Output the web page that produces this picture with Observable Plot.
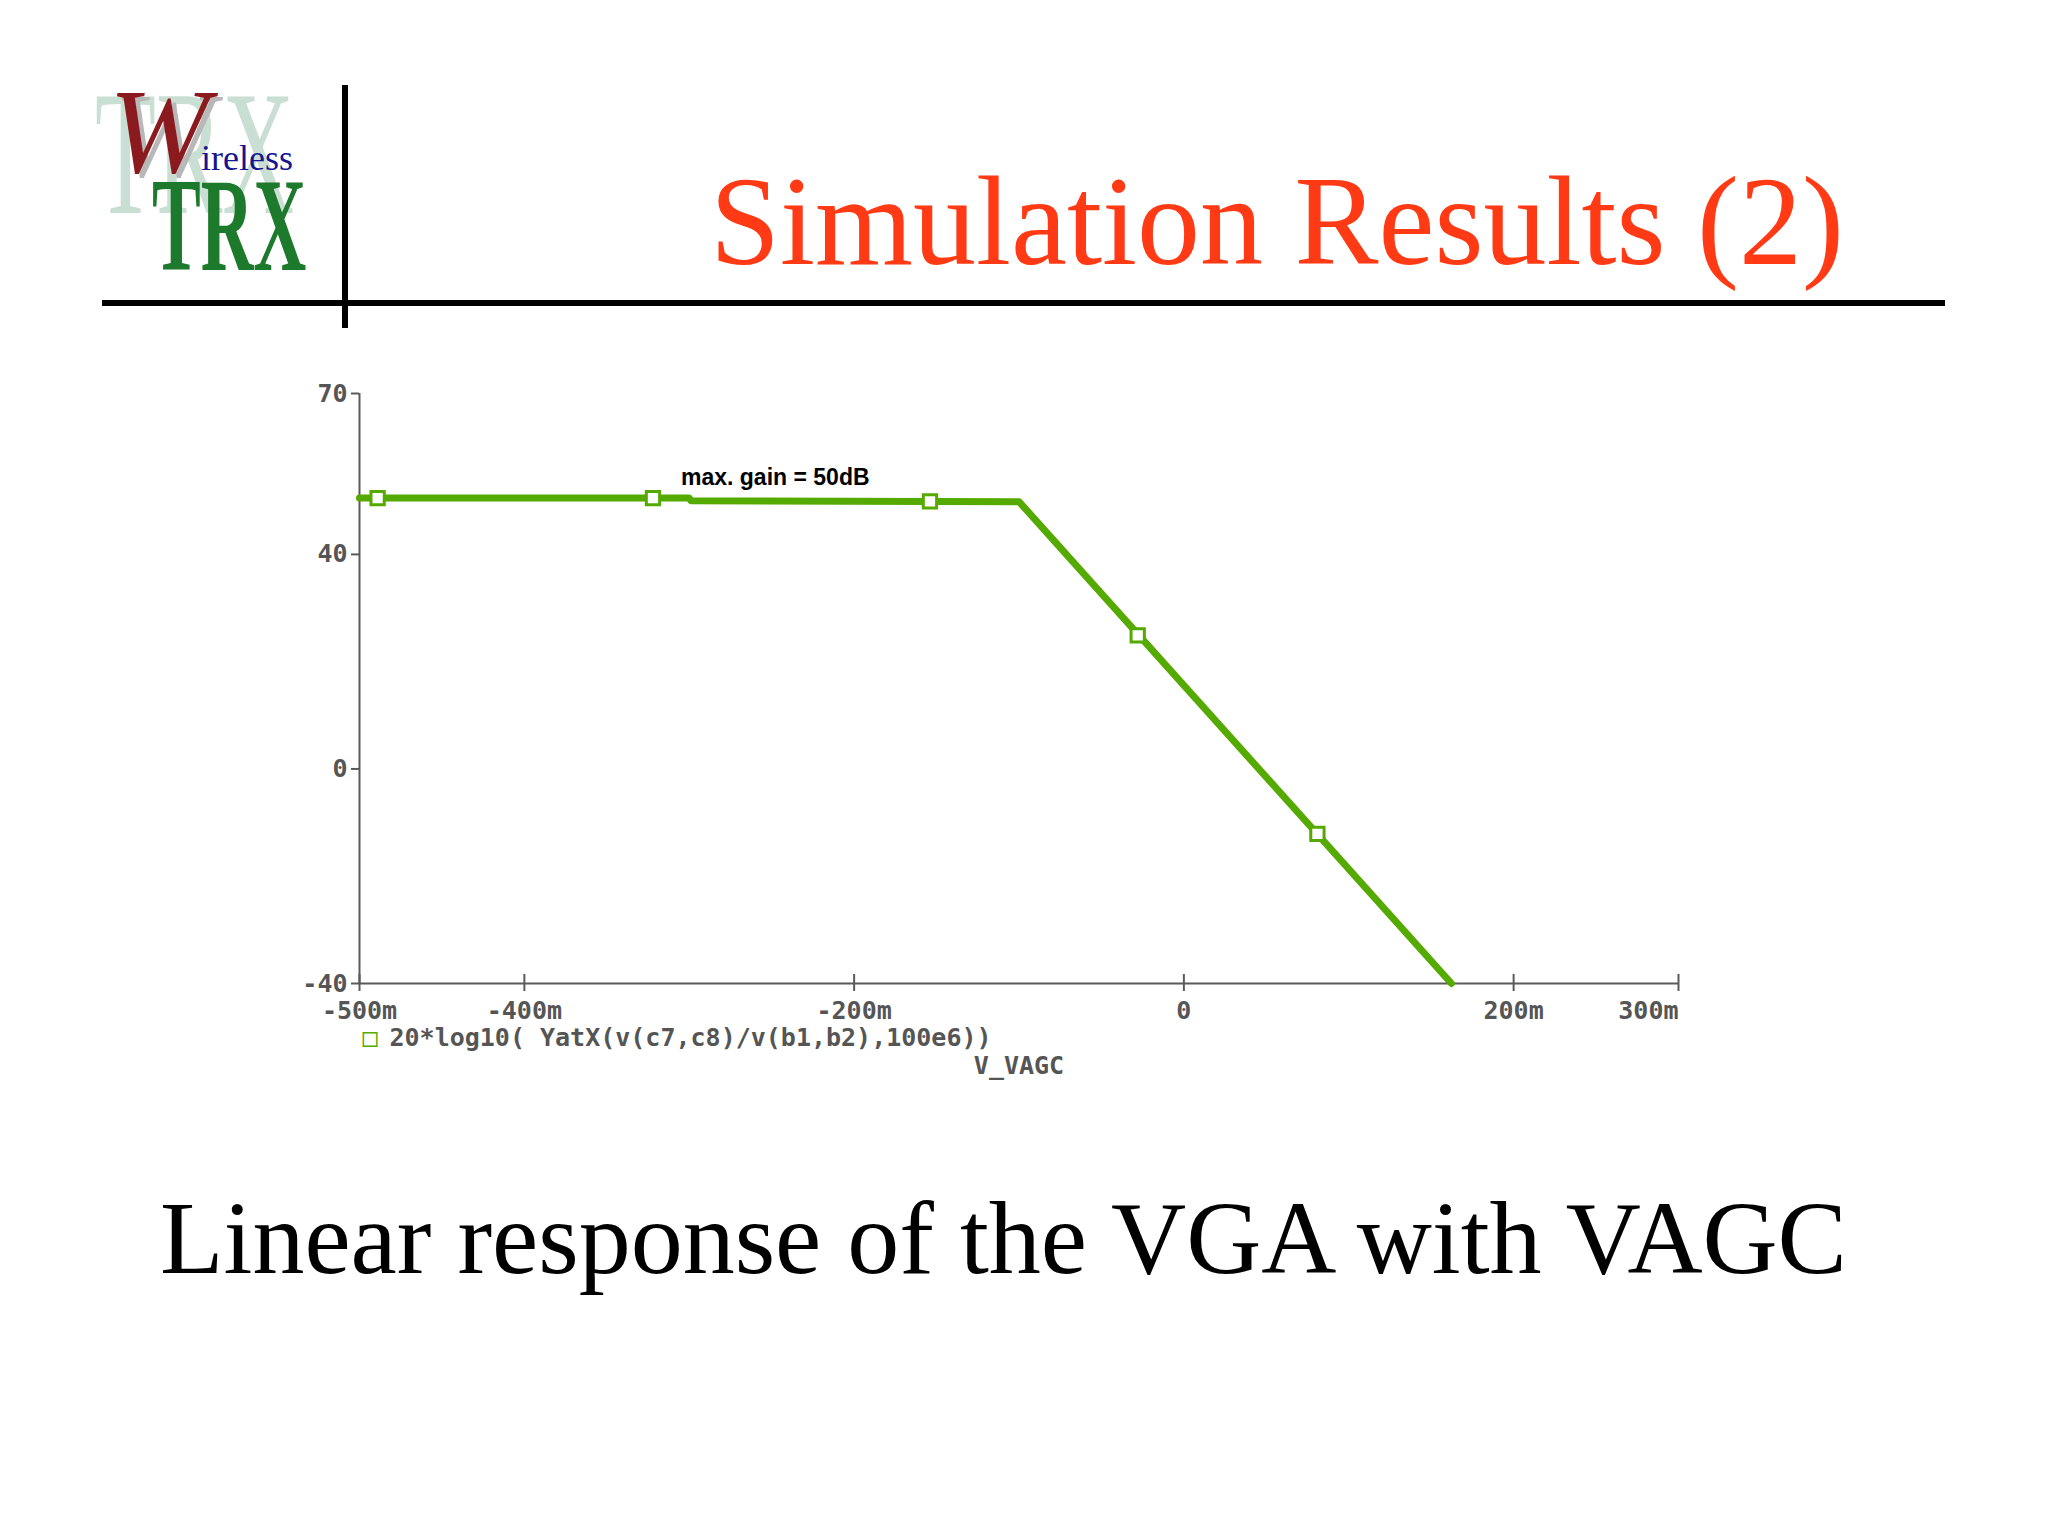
<!DOCTYPE html>
<html><head><meta charset="utf-8">
<script src="https://cdn.jsdelivr.net/npm/d3@7"></script>
<script src="https://cdn.jsdelivr.net/npm/@observablehq/plot@0.6"></script>
<style>
html,body{margin:0;padding:0;background:#fff;width:2048px;height:1536px;overflow:hidden;}
#page{position:relative;width:2048px;height:1536px;background:#fff;}
.abs{position:absolute;white-space:nowrap;line-height:1;}
</style></head><body><div id="page">
<svg id="deco" width="2048" height="1536" style="position:absolute;left:0;top:0">
  <text transform="translate(95,213) scale(0.56,1)" font-family="Liberation Serif" font-size="178" fill="#cadfd3">TRX</text>
  <text x="114" y="176" font-family="Liberation Serif" font-style="italic" font-size="120" fill="#b8b8b8">W</text>
  <text x="109" y="172" font-family="Liberation Serif" font-style="italic" font-size="120" fill="#8b1a1f">W</text>
  <text x="201" y="170" font-family="Liberation Serif" font-size="36" fill="#151590">ireless</text>
  <text transform="translate(152,270) scale(0.55,1)" font-family="Liberation Serif" font-weight="bold" font-size="133" fill="#1d7a2c">TRX</text>
  <line x1="102" y1="303" x2="1945" y2="303" stroke="#000" stroke-width="6"/>
  <line x1="345" y1="85" x2="345" y2="328" stroke="#000" stroke-width="6"/>
</svg>
<div class="abs" style="left:710px;top:159px;font-family:'Liberation Serif';font-size:126px;color:#ff3a14">Simulation Results (2)</div>
<div id="chart" style="position:absolute;left:0;top:340px"></div>
<div class="abs" style="left:160px;top:1186px;font-family:'Liberation Serif';font-size:104px;color:#000">Linear response of the VGA with VAGC</div>
</div>
<script>
// ---- data ----
const xTicks = [-0.5, -0.4, -0.2, 0, 0.2, 0.3];
const yTicks = [70, 40, 0, -40];
const vagc = [-0.5, -0.3, -0.299, -0.0999, 0.1623];
const gainDb = [50.5, 50.5, 50.0, 49.8, -40];
const markerVagc = [-0.489, -0.322, -0.154, -0.028, 0.081];
const markerGain = [50.5, 50.5, 49.9, 24.9, -12.1];
const noteText = ["max. gain = 50dB"];
const noteVagc = [-0.305];
const noteGain = [54.3];
const legendText = ["20*log10( YatX(v(c7,c8)/v(b1,b2),100e6))"];
const xLabel = ["V_VAGC"];

const green = "#55aa00";
const axisColor = "#5a5a5a";
const fmtX = d => d === 0 ? "0" : `${Math.round(d * 1000)}m`;
const curve = vagc.map((x, i) => ({x, y: gainDb[i]}));
const markers = markerVagc.map((x, i) => ({x, y: markerGain[i]}));
const note = noteText.map((t, i) => ({t, x: noteVagc[i], y: noteGain[i]}));

const chart = Plot.plot({
  width: 2048, height: 743,
  marginLeft: 359, marginRight: 370, marginTop: 53, marginBottom: 100,
  x: {domain: [-0.5, 0.3]},
  y: {domain: [-40, 70]},
  style: {background: "transparent", fontFamily: "'DejaVu Sans Mono', monospace", fontSize: "25px", fontWeight: "bold", color: "#555", overflow: "visible"},
  marks: [
    Plot.ruleX([-0.5], {stroke: axisColor, strokeWidth: 2}),
    Plot.ruleY([-40], {stroke: axisColor, strokeWidth: 2}),
    Plot.axisY({ticks: yTicks, tickSize: 8, tickPadding: 4, tickFormat: d => String(d), stroke: axisColor, strokeWidth: 2, label: null}),
    Plot.axisX({ticks: xTicks, tickSize: 17, dy: -9, fill: "none", stroke: axisColor, strokeWidth: 2, label: null}),
    Plot.axisX({ticks: xTicks.slice(0, -1), tickSize: 0, tickPadding: 18, tickFormat: fmtX, label: null}),
    Plot.axisX({ticks: xTicks.slice(-1), tickSize: 0, tickPadding: 18, tickFormat: fmtX, textAnchor: "end", label: null}),
    Plot.line(curve, {x: "x", y: "y", stroke: green, strokeWidth: 7}),
    Plot.dot(markers, {x: "x", y: "y", symbol: "square", r: 7.5, fill: "white", stroke: green, strokeWidth: 3}),
    Plot.text(note, {x: "x", y: "y", text: "t", textAnchor: "start", fontFamily: "'Liberation Sans', Arial, sans-serif", fontSize: 23, fontWeight: "bold", fill: "#000"}),
    Plot.text(["□"], {text: d => d, frameAnchor: "bottom-left", dx: 3, dy: 62, fill: green, fontWeight: "normal"}),
    Plot.text(legendText, {text: d => d, frameAnchor: "bottom-left", dx: 30, dy: 62, textAnchor: "start"}),
    Plot.text(xLabel, {text: d => d, frameAnchor: "bottom", dy: 90})
  ]
});
document.getElementById("chart").appendChild(chart);
</script>
</body></html>
